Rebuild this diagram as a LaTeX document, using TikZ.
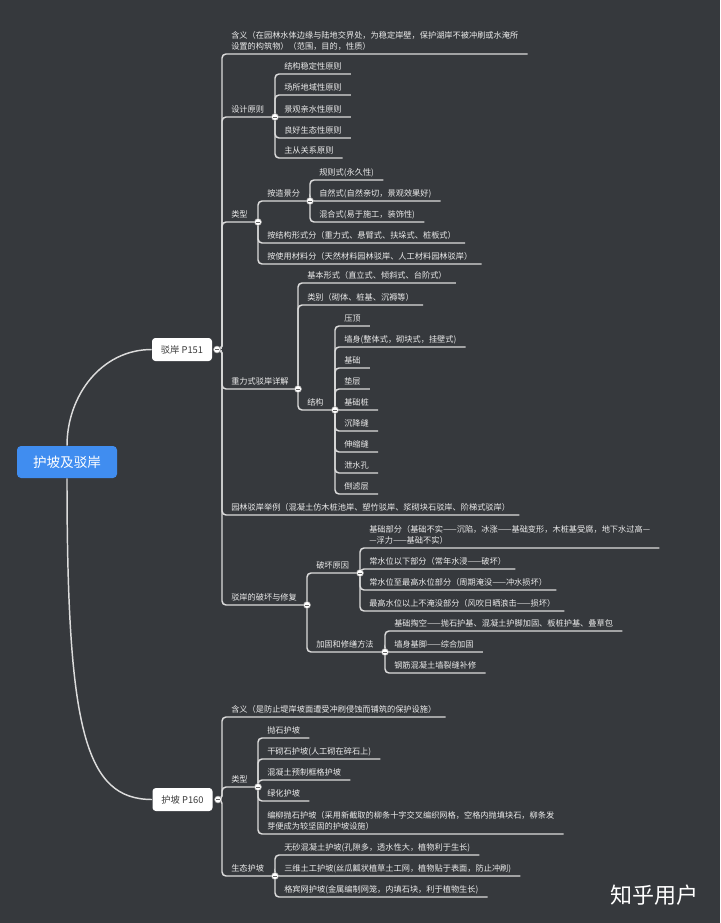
\documentclass[tikz,border=0pt]{standalone}
\usepackage{fontspec}
\setmainfont{Noto Sans CJK SC}
\definecolor{mapbg}{RGB}{54, 57, 61}
\definecolor{maplink}{RGB}{220, 220, 220}
\definecolor{maptext}{RGB}{236, 236, 236}
\definecolor{rootblue}{RGB}{64, 141, 240}
\definecolor{boxtext}{RGB}{60, 60, 60}
\newcommand\leaffont{\fontsize{6.15}{8.25}\selectfont}

\begin{document}
\begin{tikzpicture}[
  x=0.75pt, y=-0.75pt,
  link/.style={draw=maplink, line width=1.1pt, rounded corners=3pt},
  leaf/.style={anchor=south west, inner xsep=6.75pt, inner ysep=2.2pt, text depth=1.2pt, text=maptext, font=\leaffont, align=left},
  fold/.style={circle, draw=maplink!70!black, fill=white, line width=0.4pt, minimum size=5.25pt, inner sep=0pt,
    path picture={\draw[line width=0.5pt, black!60] ([xshift=-1.5pt]path picture bounding box.center) -- ([xshift=1.5pt]path picture bounding box.center);}},
  mainbox/.style={fill=white, rounded corners=2.5pt, minimum width=45pt, minimum height=17.25pt, inner sep=0pt, text=boxtext, font=\fontsize{7}{8}\selectfont},
  rootbox/.style={fill=rootblue, rounded corners=3pt, minimum width=75pt, minimum height=24pt, text=white, font=\fontsize{10.2}{12}\selectfont}
]
  \path[use as bounding box, fill=mapbg] (0,0) rectangle (720,923);

  % centre topic and main branches
  \node[rootbox] (root) at (67,462) {护坡及驳岸};
  \node[mainbox] (pA) at (182,349.5) {驳岸 P151};
  \node[mainbox] (pB) at (182.5,799.5) {护坡 P160};
  \draw[link] (root.north) to[out=90,in=180] (pA.west);
  \draw[link] (root.south) .. controls (67,730) and (85,799.5) .. (pB.west);
  \coordinate (fA) at (217,349.5);
  \coordinate (sA) at (222,349.5);
  \coordinate (fB) at (218,799.5);
  \coordinate (sB) at (222,799.5);

  % 驳岸 P151
  \node[leaf] (a1) at (222,54) {含义（在园林水体边缘与陆地交界处，为稳定岸壁，保护湖岸不被冲刷或水淹所\\设置的构筑物）（范围，目的，性质）};
  \node[leaf] (a2) at (222,117) {设计原则};
  \node[leaf] (a3) at (222,222) {类型};
  \node[leaf] (a4) at (222,389) {重力式驳岸详解};
  \node[leaf] (a5) at (222,515) {园林驳岸举例（混凝土仿木桩池岸、塑竹驳岸、浆砌块石驳岸、阶梯式驳岸）};
  \node[leaf] (a6) at (222,605) {驳岸的破坏与修复};
  \coordinate (f2) at (275,117);
  \coordinate (f3) at (258,222);
  \coordinate (f4) at (298,389);
  \coordinate (f6) at (307,605);
  \draw[link] (fA) -- (sA) |- (a1.south east);
  \draw[link] (fA) -- (sA) |- (f2);
  \draw[link] (fA) -- (sA) |- (f3);
  \draw[link] (fA) -- (sA) |- (f4);
  \draw[link] (fA) -- (sA) |- (a5.south east);
  \draw[link] (fA) -- (sA) |- (f6);

  % 设计原则
  \foreach \nm/\yy/\txt in {b1/74/结构稳定性原则, b2/95/场所地域性原则, b3/117/景观亲水性原则, b4/138/良好生态性原则, b5/158/主从关系原则} {
    \node[leaf] (\nm) at (275,\yy) {\txt};
    \draw[link] (f2) |- (\nm.south east);
  }

  % 类型
  \node[leaf] (c1) at (258,201) {按造景分};
  \node[leaf] (c2) at (258,243) {按结构形式分（重力式、悬臂式、扶垛式、桩板式）};
  \node[leaf] (c3) at (258,264) {按使用材料分（天然材料园林驳岸、人工材料园林驳岸）};
  \coordinate (f31) at (310,201);
  \draw[link] (f3) |- (f31);
  \draw[link] (f3) |- (c2.south east);
  \draw[link] (f3) |- (c3.south east);
  \node[leaf] (d1) at (310,180) {规则式(永久性)};
  \node[leaf] (d2) at (310,201) {自然式(自然亲切，景观效果好)};
  \node[leaf] (d3) at (310,222) {混合式(易于施工，装饰性)};
  \foreach \nm in {d1, d2, d3}
    \draw[link] (f31) |- (\nm.south east);

  % 重力式驳岸详解
  \node[leaf] (e1) at (298,283) {基本形式（直立式、倾斜式、台阶式）};
  \node[leaf] (e2) at (298,305) {类别（砌体、桩基、沉褥等）};
  \node[leaf] (e3) at (298,410) {结构};
  \coordinate (f43) at (335,410);
  \draw[link] (f4) |- (e1.south east);
  \draw[link] (f4) |- (e2.south east);
  \draw[link] (f4) |- (f43);
  \foreach \nm/\yy/\txt in {g1/326/压顶, g2/347/墙身(整体式，砌块式，挂壁式), g3/368/基础, g4/389/垫层, g5/410/基础桩,
      g6/431/沉降缝, g7/452/伸缩缝, g8/473/泄水孔, g9/494/倒滤层} {
    \node[leaf] (\nm) at (335,\yy) {\txt};
    \draw[link] (f43) |- (\nm.south east);
  }

  % 驳岸的破坏与修复
  \node[leaf] (h1) at (307,573) {破坏原因};
  \node[leaf] (h2) at (307,652) {加固和修缮方法};
  \coordinate (f61) at (360,573);
  \coordinate (f62) at (385,652);
  \draw[link] (f6) |- (f61);
  \draw[link] (f6) |- (f62);
  \node[leaf] (i1) at (360,548) {基础部分（基础不实——沉陷，冰涨——基础变形，木桩基受腐，地下水过高—\\—浮力——基础不实）};
  \node[leaf] (i2) at (360,569) {常水位以下部分（常年水浸——破坏）};
  \node[leaf] (i3) at (360,590) {常水位至最高水位部分（周期淹没——冲水损坏）};
  \node[leaf] (i4) at (360,611) {最高水位以上不淹没部分（风吹日晒浪击——损坏）};
  \foreach \nm in {i1, i2, i3, i4}
    \draw[link] (f61) |- (\nm.south east);
  \node[leaf] (j1) at (385,631) {基础掏空——抛石护基、混凝土护脚加固、板桩护基、叠草包};
  \node[leaf] (j2) at (385,652) {墙身基脚——综合加固};
  \node[leaf] (j3) at (385,673) {钢筋混凝土墙裂缝补修};
  \foreach \nm in {j1, j2, j3}
    \draw[link] (f62) |- (\nm.south east);

  % 护坡 P160
  \node[leaf] (k1) at (222,717) {含义（是防止堤岸坡面遭受冲刷侵蚀而铺筑的保护设施）};
  \node[leaf] (k2) at (222,787) {类型};
  \node[leaf] (k3) at (222,876) {生态护坡};
  \coordinate (fk2) at (258,787);
  \coordinate (fk3) at (275,876);
  \draw[link] (fB) -- (sB) |- (k1.south east);
  \draw[link] (fB) -- (sB) |- (fk2);
  \draw[link] (fB) -- (sB) |- (fk3);
  \foreach \nm/\yy/\txt in {l1/738/抛石护坡, l2/759/干砌石护坡(人工砌在碎石上), l3/780/混凝土预制框格护坡, l4/801/绿化护坡,
      l5/834/编柳抛石护坡（采用新截取的柳条十字交叉编织网格，空格内抛填块石，柳条发\\芽便成为较坚固的护坡设施）} {
    \node[leaf] (\nm) at (258,\yy) {\txt};
    \draw[link] (fk2) |- (\nm.south east);
  }
  \node[leaf] (m1) at (275,855) {无砂混凝土护坡(孔隙多，透水性大，植物利于生长)};
  \node[leaf] (m2) at (275,876) {三维土工护坡(丝瓜瓤状植草土工网，植物贴于表面，防止冲刷)};
  \node[leaf] (m3) at (275,897) {格宾网护坡(金属编制网笼，内填石块，利于植物生长)};
  \foreach \nm in {m1, m2, m3}
    \draw[link] (fk3) |- (\nm.south east);

  % collapse buttons
  \foreach \f in {fA, f2, f3, f31, f4, f43, f6, f61, f62, fB, fk2, fk3}
    \node[fold] (\f o) at (\f) {};

  \node[text=white, font=\fontsize{16.5}{18}\selectfont] (wm) at (654,895) {知乎用户};
\end{tikzpicture}
\end{document}
